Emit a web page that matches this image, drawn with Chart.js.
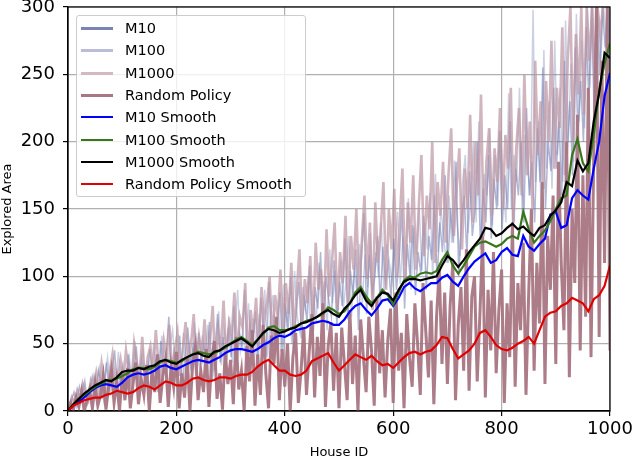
<!DOCTYPE html>
<html>
<head>
<meta charset="utf-8">
<script src="https://cdn.jsdelivr.net/npm/chart.js@4.4.1/dist/chart.umd.min.js"></script>
<style>
  html, body { margin: 0; padding: 0; background: #fff; }
  #wrap { position: relative; width: 634px; height: 460px; }
  #legend {
    position: absolute; left: 76px; top: 15px; width: 228px; height: 180px;
    background: rgba(255,255,255,0.8); border: 1px solid #ccc; border-radius: 3px;
    font-family: 'DejaVu Sans', sans-serif; font-size: 14.5px; color: #000;
  }
  #legend .row { position: absolute; left: 0; height: 20px; line-height: 20px; white-space: nowrap; }
  #legend .sw { position: absolute; left: 4px; top: 9px; width: 32px; height: 2px; }
  #legend .tx { position: absolute; left: 48px; top: 0; }
</style>
</head>
<body>
<div id="wrap">
  <canvas id="chart" width="634" height="460"></canvas>
  <div id="legend"></div>
</div>
<script>
// raw curves are read every 5 houses (each from its own first house), smoothed ones every 10
var rawStep = 5;
var smoothStep = 10;
var m10Start = 1, m100Start = 3, m1000Start = 2, randomStart = 0;

var m10 = [
  0, 8, 14, 4, 18, 10, 22, 6, 16, 26,
  12, 30, 20, 8, 36, 16, 28, 45, 14, 24,
  34, 10, 42, 22, 30, 48, 16, 38, 26, 20,
  46, 24, 36, 14, 52, 30, 40, 70, 22, 44,
  28, 56, 18, 42, 62, 34, 48, 26, 58, 38,
  50, 30, 66, 22, 45, 72, 36, 55, 28, 62,
  40, 78, 34, 58, 48, 90, 30, 65, 52, 74,
  38, 84, 56, 44, 96, 48, 70, 62, 88, 42,
  80, 60, 100, 46, 74, 96, 54, 86, 66, 108,
  58, 92, 76, 118, 62, 100, 82, 70, 112, 64,
  96, 78, 128, 68, 104, 86, 120, 60, 110, 147,
  72, 116, 88, 100, 130, 80, 122, 95, 110, 84,
  128, 90, 112, 150, 76, 124, 100, 138, 86, 118,
  102, 145, 90, 130, 112, 160, 96, 140, 118, 175,
  110, 150, 125, 185, 100, 140, 160, 115, 178, 130,
  150, 200, 120, 165, 140, 190, 128, 172, 150, 208,
  135, 175, 150, 215, 128, 180, 160, 200, 140, 225,
  160, 185, 140, 210, 170, 255, 150, 200, 178, 240,
  180, 215, 160, 260, 190, 230, 175, 270, 205, 245,
  200, 285, 230, 300, 215, 300, 250, 300, 270, 300,
  240
];
var m100 = [
  0, 10, 5, 16, 8, 20, 12, 7, 24, 14,
  18, 32, 12, 26, 40, 15, 30, 20, 44, 22,
  28, 16, 40, 24, 52, 20, 34, 46, 18, 36,
  26, 50, 32, 20, 56, 38, 28, 48, 60, 30,
  44, 24, 58, 36, 50, 28, 66, 40, 32, 56,
  38, 64, 28, 52, 42, 74, 34, 60, 46, 70,
  36, 62, 90, 44, 56, 40, 80, 50, 68, 38,
  72, 48, 90, 40, 66, 86, 52, 78, 44, 94,
  62, 84, 50, 104, 70, 58, 92, 76, 100, 56,
  86, 66, 110, 74, 96, 60, 120, 80, 104, 70,
  112, 76, 96, 130, 70, 108, 88, 124, 80, 116,
  92, 132, 78, 118, 100, 140, 86, 124, 110, 96,
  120, 148, 94, 130, 108, 158, 90, 136, 116, 150,
  104, 140, 120, 162, 98, 176, 118, 150, 130, 110,
  160, 125, 186, 140, 115, 170, 190, 132, 158, 200,
  140, 215, 130, 176, 160, 210, 138, 190, 152, 208,
  165, 140, 236, 150, 190, 170, 240, 145, 205, 180,
  160, 298, 170, 215, 150, 268, 180, 230, 165, 275,
  190, 240, 170, 290, 200, 258, 185, 295, 215, 275,
  210, 300, 240, 300, 225, 300, 260, 300, 280, 300,
  250
];
var m1000 = [
  2, 10, 6, 15, 9, 20, 12, 8, 22, 16,
  28, 14, 35, 20, 12, 30, 42, 18, 26, 38,
  22, 45, 30, 18, 50, 36, 26, 55, 20, 40,
  48, 28, 60, 35, 22, 52, 40, 64, 30, 45,
  58, 26, 46, 66, 34, 50, 72, 30, 55, 42,
  68, 36, 52, 78, 30, 60, 45, 82, 38, 65,
  55, 88, 40, 70, 62, 95, 35, 75, 58, 84,
  46, 92, 66, 80, 100, 50, 86, 70, 105, 60,
  95, 72, 110, 55, 88, 120, 65, 98, 80, 115,
  60, 125, 90, 105, 70, 135, 85, 110, 140, 75,
  118, 95, 145, 80, 130, 105, 150, 88, 125, 160,
  98, 140, 75, 155, 110, 135, 170, 90, 150, 120,
  165, 100, 140, 180, 95, 155, 125, 175, 105, 150,
  190, 115, 160, 135, 200, 110, 170, 145, 185, 125,
  175, 210, 130, 165, 195, 120, 180, 150, 220, 140,
  200, 160, 235, 130, 185, 210, 145, 195, 170, 225,
  150, 205, 180, 240, 140, 195, 225, 160, 250, 175,
  215, 150, 260, 190, 230, 165, 245, 200, 275, 180,
  240, 210, 285, 175, 260, 300, 200, 280, 235, 300,
  220, 300, 260, 300, 240, 300, 280, 300, 300, 300,
  300
];
var randomPolicy = [
  0, 6, 1, 10, 3, 14, 0, 8, 16, 2,
  20, 4, 12, 26, 1, 18, 30, 6, 22, 0,
  28, 8, 32, 2, 20, 36, 5, 24, 12, 34,
  0, 30, 14, 42, 6, 26, 38, 3, 33, 18,
  44, 2, 28, 10, 40, 0, 35, 48, 8, 30,
  14, 46, 3, 36, 52, 9, 28, 1, 44, 20,
  38, 5, 55, 16, 30, 0, 48, 22, 60, 4,
  42, 12, 64, 28, 2, 56, 35, 70, 8, 46,
  18, 50, 0, 40, 58, 6, 30, 62, 12, 44,
  72, 10, 55, 26, 80, 3, 48, 66, 15, 58,
  2, 62, 35, 8, 75, 20, 56, 0, 68, 40,
  14, 70, 45, 4, 85, 28, 60, 10, 52, 76,
  6, 88, 30, 58, 2, 72, 40, 18, 80, 50,
  12, 95, 60, 25, 82, 5, 70, 105, 35, 88,
  20, 78, 110, 8, 64, 92, 30, 120, 15, 85,
  100, 22, 72, 130, 10, 90, 45, 118, 28, 75,
  105, 6, 80, 40, 140, 18, 95, 60, 125, 12,
  88, 150, 30, 110, 65, 170, 20, 130, 90, 160,
  35, 185, 110, 60, 200, 25, 150, 95, 220, 45,
  175, 70, 240, 40, 190, 300, 55, 260, 110, 300,
  45
];

var m10Smooth = [
  0, 4, 7, 10, 14, 17, 19, 20, 19, 18,
  21, 25, 27, 28, 27, 28, 30, 33, 34, 32,
  31, 33, 35, 37, 38, 37, 36, 38, 40, 43,
  45, 46, 46, 45, 44, 46, 49, 51, 54, 56,
  55, 57, 60, 61, 62, 65, 66, 67, 66, 64,
  64, 68, 74, 78, 80, 75, 71, 76, 82, 83,
  78, 84, 92, 95, 91, 89, 92, 95, 95, 99,
  101, 96, 93, 100, 106, 111, 114, 117, 110, 112,
  118, 121, 116, 115, 130, 122, 119, 124, 128, 146,
  148, 136, 138, 158, 164, 160, 157, 180, 200, 234,
  251
];
var m100Smooth = [
  0, 5, 9, 12, 15, 18, 20, 22, 23, 24,
  26, 28, 31, 32, 32, 31, 33, 36, 38, 37,
  36, 37, 40, 42, 44, 43, 42, 43, 45, 47,
  50, 53, 55, 52, 49, 53, 57, 62, 63, 60,
  60, 61, 63, 65, 67, 68, 70, 72, 77, 75,
  72, 74, 80, 88, 92, 85, 80, 84, 90, 86,
  79, 88, 97, 100, 99, 102, 103, 102, 104, 112,
  118, 108, 102, 108, 115, 122, 125, 126, 124, 122,
  124, 128, 130, 128, 148, 135, 125, 130, 134, 141,
  150, 158, 160, 190, 202, 184, 178, 205, 238, 258,
  273
];
var m1000Smooth = [
  0, 5, 9, 13, 16, 19, 21, 23, 22, 25,
  29, 30, 30, 32, 31, 33, 34, 37, 38, 36,
  35, 38, 40, 42, 43, 41, 40, 44, 45, 48,
  50, 52, 54, 51, 48, 53, 58, 61, 60, 58,
  59, 61, 62, 65, 66, 68, 70, 73, 75, 72,
  70, 76, 80, 86, 90, 82, 78, 84, 88, 87,
  82, 90, 96, 98, 98, 97, 98, 99, 100, 108,
  115, 112, 107, 112, 118, 123, 128, 136, 135, 130,
  132, 136, 139, 135, 137, 133, 130, 136, 138, 145,
  149, 155, 170, 167, 186, 178, 184, 215, 236, 266,
  262
];
var randomSmooth = [
  0, 4, 6, 8, 9, 10, 10, 12, 13, 15,
  14, 13, 14, 17, 19, 18, 16, 19, 22, 21,
  19, 19, 21, 24, 25, 23, 22, 23, 25, 25,
  24, 26, 27, 27, 29, 33, 36, 38, 34, 30,
  30, 27, 26, 27, 30, 37, 39, 41, 43, 36,
  30, 34, 38, 42, 40, 38, 41, 37, 34, 35,
  32, 36, 40, 43, 44, 42, 44, 45, 49, 55,
  54, 46, 39, 42, 45, 50, 58, 60, 55, 49,
  46, 45, 47, 50, 52, 55, 50, 60, 70, 73,
  74, 78, 80, 84, 82, 80, 74, 83, 86, 93,
  108
];

var xTicks = [0, 200, 400, 600, 800, 1000];
var yTicks = [0, 50, 100, 150, 200, 250, 300];

function toPoints(values, start, step) {
    return values.map(function (v, i) { return {x: start + i * step, y: v}; });
}

var font = 'DejaVu Sans';

var frame = {
    id: 'frame',
    afterDatasetsDraw: function (c) {
        var a = c.chartArea, ctx = c.ctx;
        ctx.save();
        ctx.strokeStyle = '#000';
        ctx.lineWidth = 1.2;
        ctx.strokeRect(a.left, a.top, a.right - a.left, a.bottom - a.top);
        ctx.restore();
    }
};

function line(label, points, color, swatch, width, order) {
    return {
        label: label,
        data: points,
        borderColor: color,
        backgroundColor: swatch,
        borderWidth: width,
        pointRadius: 0,
        tension: 0,
        fill: false,
        order: order
    };
}

var chart = new Chart(document.getElementById('chart').getContext('2d'), {
    type: 'line',
    data: {
        datasets: [
            line('M10', toPoints(m10, m10Start, rawStep), 'rgba(100,110,170,0.5)', '#7a83b4', 1.5, 8),
            line('M100', toPoints(m100, m100Start, rawStep), 'rgba(110,120,175,0.35)', '#b9bdd8', 1.5, 7),
            line('M1000', toPoints(m1000, m1000Start, rawStep), 'rgba(190,150,162,0.7)', '#d3b9c1', 2.6, 6),
            line('Random Policy', toPoints(randomPolicy, randomStart, rawStep), 'rgba(168,118,131,0.95)', '#a87783', 3, 5),
            line('M10 Smooth', toPoints(m10Smooth, 0, smoothStep), '#0000ff', '#0000ff', 2.2, 4),
            line('M100 Smooth', toPoints(m100Smooth, 0, smoothStep), '#38761d', '#38761d', 2.2, 3),
            line('M1000 Smooth', toPoints(m1000Smooth, 0, smoothStep), '#000000', '#000000', 2.2, 2),
            line('Random Policy Smooth', toPoints(randomSmooth, 0, smoothStep), '#e00000', '#e00000', 2.2, 1)
        ]
    },
    options: {
        responsive: false,
        animation: false,
        layout: {padding: {left: 0, right: 24, top: 7, bottom: 0}},
        plugins: {legend: {display: false}, tooltip: {enabled: false}},
        scales: {
            x: {
                type: 'linear', min: 0, max: 1000,
                afterBuildTicks: function (s) { s.ticks = xTicks.map(function (v) { return {value: v}; }); },
                afterFit: function (s) { s.height = 49; s.paddingLeft = 0; s.paddingRight = 0; },
                grid: {color: '#b0b0b0', lineWidth: 1.2, tickLength: 5, tickColor: '#000', tickWidth: 1.2},
                border: {color: '#000', width: 1.2},
                ticks: {color: '#000', padding: 3, maxRotation: 0, font: {family: font, size: 18},
                        callback: function (v) { return String(v); }},
                title: {display: true, text: 'House ID', color: '#000', padding: 0, font: {family: font, size: 13}}
            },
            y: {
                min: 0, max: 300,
                afterBuildTicks: function (s) { s.ticks = yTicks.map(function (v) { return {value: v}; }); },
                afterFit: function (s) { s.width = 68; s.paddingTop = 0; s.paddingBottom = 0; },
                grid: {color: '#b0b0b0', lineWidth: 1.2, tickLength: 5, tickColor: '#000', tickWidth: 1.2},
                border: {color: '#000', width: 1.2},
                ticks: {color: '#000', padding: 8, font: {family: font, size: 18},
                        callback: function (v) { return String(v); }},
                title: {display: true, text: 'Explored Area', color: '#000', padding: 0, font: {family: font, size: 13}}
            }
        }
    },
    plugins: [frame]
});

// legend box inside the plot, like the original
var legendEl = document.getElementById('legend');
chart.data.datasets.forEach(function (ds, i) {
    var row = document.createElement('div');
    row.className = 'row';
    row.style.top = (2 + i * 22.3) + 'px';
    var sw = document.createElement('span');
    sw.className = 'sw';
    sw.style.background = ds.backgroundColor;
    sw.style.height = (i < 4 ? 3 : 2) + 'px';
    var tx = document.createElement('span');
    tx.className = 'tx';
    tx.textContent = ds.label;
    row.appendChild(sw);
    row.appendChild(tx);
    legendEl.appendChild(row);
});
</script>
</body>
</html>
